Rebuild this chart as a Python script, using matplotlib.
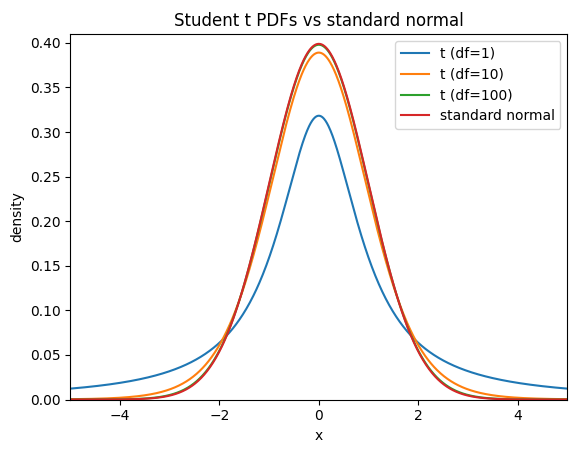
import math
import numpy as np
import matplotlib
matplotlib.use("Agg")
import matplotlib.pyplot as plt

dfs = [1, 10, 100]
labels = ["t (df=1)", "t (df=10)", "t (df=100)", "standard normal"]
x = np.linspace(-5, 5, 1000)

def t_pdf(x, v):
    c = math.gamma((v + 1) / 2) / (math.sqrt(v * math.pi) * math.gamma(v / 2))
    return c * (1 + x**2 / v) ** (-(v + 1) / 2)

fig, ax = plt.subplots(figsize=(5.76, 4.53), dpi=100)
for v, lab in zip(dfs, labels):
    ax.plot(x, t_pdf(x, v), label=lab)
ax.plot(x, np.exp(-x**2 / 2) / math.sqrt(2 * math.pi), label=labels[3])
ax.set_xlim(-5, 5)
ax.set_ylim(0, 0.41)
ax.set_title("Student t PDFs vs standard normal")
ax.set_xlabel("x")
ax.set_ylabel("density")
ax.legend(loc="upper right")
fig.subplots_adjust(left=0.122, right=0.985, top=0.925, bottom=0.118)
fig.savefig("out.png", dpi=100)
